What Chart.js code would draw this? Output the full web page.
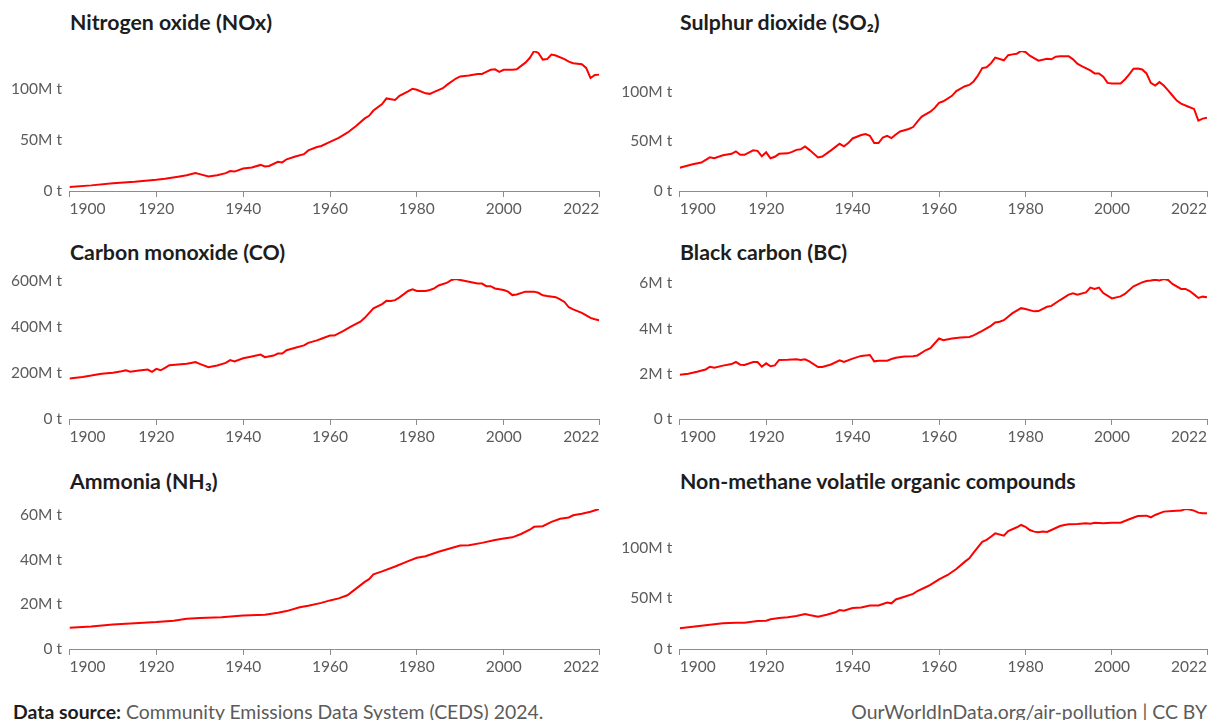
<!DOCTYPE html>
<html>
<head>
<meta charset="utf-8">
<script src="https://cdn.jsdelivr.net/npm/chart.js@4/dist/chart.umd.min.js"></script>
<style>
  html, body { margin: 0; padding: 0; background: #fff; }
  #page { position: relative; width: 1210px; height: 720px; overflow: hidden; font-family: Lato, "Noto Sans", sans-serif; }
  .title { position: absolute; font-weight: 700; font-size: 21.3px; line-height: 1.2; color: #1d1d1d; white-space: nowrap; }
  .foot { position: absolute; font-size: 19.4px; line-height: 1.2; color: #5b5b5b; white-space: nowrap; }
  .foot b { color: #1d1d1d; }
  canvas { position: absolute; }
</style>
</head>
<body>
<div id="page">
  <div class="foot" style="left:13px;top:700px;"><b>Data source:</b> Community Emissions Data System (CEDS) 2024.</div>
  <div class="foot" style="right:3px;top:700px;">OurWorldInData.org/air-pollution | CC BY</div>
</div>
<script>
// Global emissions by pollutant, million tonnes per year (CEDS 2024)
const xTickYears = [1900, 1920, 1940, 1960, 1980, 2000, 2022];

const noxYears = [1900,1905,1910,1915,1920,1922,1925,1927,1929,1930,1932,1934,1936,1937,1938,1940,1942,1944,1945,1946,1948,1949,1950,1952,1954,1955,1957,1958,1960,1962,1964,1966,1968,1969,1970,1972,1973,1975,1976,1978,1979,1980,1982,1983,1984,1986,1987,1989,1990,1992,1994,1995,1996,1997,1998,1999,2000,2002,2003,2005,2006,2007,2008,2009,2010,2011,2012,2014,2015,2016,2018,2019,2020,2021,2022];
const noxValues = [4,5.5,7.5,9,11,12,14,15.5,17.5,16.5,14.3,15.5,17.5,19.5,19,22,23,25.5,24,24.5,28.6,28,31,33.8,36,39.7,43,44,48,52,57,63.5,71,73.5,78.7,85,90.5,89,93,97.5,100,99,95.5,95,97,100.5,104,110,112,113,114.5,114.5,116.5,118.5,119,116.5,118.5,118.5,119,125.5,130,136.9,135,128.5,129,133.4,132.5,129,126.5,125,124,120.3,110.5,113.5,113.8];
const noxTicks = [0, 50, 100];

const so2Years = [1900,1903,1905,1907,1908,1910,1912,1913,1914,1915,1917,1918,1919,1920,1921,1922,1923,1925,1926,1927,1928,1929,1930,1932,1933,1935,1937,1938,1939,1940,1942,1943,1944,1945,1946,1947,1948,1949,1950,1951,1953,1954,1955,1956,1958,1959,1960,1961,1963,1964,1966,1967,1968,1969,1970,1971,1972,1973,1975,1976,1977,1978,1979,1980,1981,1983,1985,1986,1987,1988,1990,1991,1992,1993,1995,1996,1997,1998,1999,2000,2002,2003,2004,2005,2006,2007,2008,2009,2010,2011,2012,2013,2014,2015,2016,2018,2019,2020,2021,2022];
const so2Values = [23.5,27,28.7,34,33,36,37.5,40,36.5,36.5,41,40.5,35,39,33,34.5,37.5,38,39.5,41.5,42,45,41.5,33.8,34.8,41,47.6,45,48.3,53,56.4,57.4,55.7,48.3,48.3,54,55.7,53.4,57,60,62.5,64.5,70,75,80,83.8,88.9,90.5,96,100.7,105.7,107,110.5,116.5,124,124.7,128.7,134.5,131.8,137,137.8,138.5,141.2,140.2,136.5,131.5,133.4,132.8,135.5,136,136,132.8,128.4,126,121.6,118.6,118.6,115.2,109,108.4,108.4,112.5,117.6,123.3,123.6,122.6,118.6,109,106.4,109.8,106.4,101.4,96.3,91.2,88.2,84.5,82.8,71,73,74];
const so2Ticks = [0, 50, 100];

const coYears = [1900,1903,1905,1907,1908,1910,1912,1913,1914,1916,1918,1919,1920,1921,1922,1923,1925,1927,1928,1929,1930,1932,1934,1936,1937,1938,1940,1942,1944,1945,1947,1948,1949,1950,1952,1954,1955,1957,1958,1960,1961,1963,1965,1967,1968,1970,1972,1973,1974,1975,1976,1978,1979,1980,1982,1983,1984,1985,1987,1988,1989,1990,1992,1994,1995,1996,1997,1998,2000,2001,2002,2003,2005,2007,2008,2009,2010,2012,2013,2014,2015,2016,2018,2019,2020,2021,2022];
const coValues = [176,183,189,196,198,201,208,212,206,211,215,205,218,212,222,234,237,240,244,248,240,225,233,244,256,250,264,272,280,269,276,285,285,299,310,320,331,342,349,363,363,382,404,423,440,481,500,514,513,517,529,557,564,557,557,561,568,581,593,605,609,605,597,589,589,578,578,568,561,554,539,542,554,554,549,538,535,530,520,509,486,477,462,451,440,434,430];
const coTicks = [0, 200, 400, 600];

const bcYears = [1900,1902,1904,1906,1907,1908,1910,1912,1913,1914,1915,1917,1918,1919,1920,1921,1922,1923,1925,1927,1928,1929,1930,1932,1933,1935,1937,1938,1940,1942,1944,1945,1946,1948,1949,1950,1952,1954,1955,1957,1958,1960,1961,1963,1965,1967,1968,1970,1972,1973,1974,1975,1977,1979,1980,1982,1983,1985,1986,1988,1990,1991,1992,1994,1995,1996,1997,1998,2000,2002,2003,2005,2007,2008,2009,2010,2011,2012,2013,2014,2016,2017,2018,2019,2020,2021,2022];
const bcValues = [1.96,2.0,2.09,2.19,2.31,2.27,2.36,2.43,2.52,2.4,2.39,2.52,2.52,2.31,2.46,2.33,2.37,2.61,2.62,2.64,2.61,2.64,2.55,2.3,2.3,2.41,2.59,2.52,2.67,2.79,2.83,2.55,2.58,2.58,2.65,2.71,2.76,2.77,2.81,3.05,3.13,3.56,3.48,3.56,3.6,3.63,3.7,3.9,4.12,4.27,4.3,4.37,4.68,4.9,4.86,4.76,4.77,4.96,5.0,5.26,5.5,5.56,5.5,5.6,5.81,5.75,5.81,5.57,5.33,5.42,5.53,5.87,6.04,6.1,6.12,6.16,6.12,6.19,6.15,5.97,5.75,5.75,5.66,5.51,5.35,5.41,5.38];
const bcTicks = [0, 2, 4, 6];

const nh3Years = [1900,1905,1910,1915,1920,1924,1927,1930,1935,1940,1945,1948,1950,1953,1955,1958,1960,1962,1964,1966,1968,1969,1970,1972,1975,1978,1980,1982,1985,1988,1990,1992,1995,1998,2000,2002,2004,2006,2007,2009,2011,2013,2015,2016,2018,2020,2022];
const nh3Values = [9.5,10.1,11,11.6,12.1,12.7,13.6,13.9,14.2,15,15.4,16.3,17,18.7,19.4,20.7,21.8,22.7,24.1,27.1,30.1,31.3,33.5,34.8,37,39.4,40.9,41.6,43.6,45.3,46.4,46.5,47.6,48.9,49.6,50.1,51.6,53.5,54.8,55.1,57,58.4,59,60,60.7,61.6,62.8];
const nh3Ticks = [0, 20, 40, 60];

const nmvocYears = [1900,1905,1910,1913,1915,1918,1920,1921,1923,1925,1927,1929,1930,1932,1934,1936,1937,1938,1940,1942,1944,1946,1948,1949,1950,1952,1954,1955,1957,1958,1960,1962,1964,1966,1967,1968,1970,1971,1972,1973,1975,1976,1978,1979,1980,1981,1982,1983,1984,1985,1986,1988,1989,1990,1992,1994,1995,1996,1998,2000,2002,2004,2006,2008,2009,2010,2012,2014,2016,2017,2018,2019,2020,2021,2022];
const nmvocValues = [20.5,23,25.4,26,26,27.7,28,29.4,30.7,31.4,32.7,34.7,33.7,32,34,36.3,38.6,38,40.6,41,43,43,46,45.2,49,51.8,54.5,57.4,61.4,63.4,69,73.3,79.2,86.5,89.8,95.4,106,108,111.2,114.5,112.2,116.8,120.5,122.8,121,117.8,116.2,115.5,116.2,115.8,117.8,121.8,122.8,123.4,123.8,124.4,124,125,124.4,125,125,128.4,131.7,132,130.4,132.7,136,136.6,137,138.6,138,137,135,134.3,134.5];
const nmvocTicks = [0, 50, 100];

const panels = [
  { title: 'Nitrogen oxide (NOx)', years: noxYears, values: noxValues, ticks: noxTicks, col: 0, row: 0 },
  { title: 'Sulphur dioxide (SO\u2082)', years: so2Years, values: so2Values, ticks: so2Ticks, col: 1, row: 0 },
  { title: 'Carbon monoxide (CO)', years: coYears, values: coValues, ticks: coTicks, col: 0, row: 1 },
  { title: 'Black carbon (BC)', years: bcYears, values: bcValues, ticks: bcTicks, col: 1, row: 1 },
  { title: 'Ammonia (NH\u2083)', years: nh3Years, values: nh3Values, ticks: nh3Ticks, col: 0, row: 2 },
  { title: 'Non-methane volatile organic compounds', years: nmvocYears, values: nmvocValues, ticks: nmvocTicks, col: 1, row: 2 }
];

// Grid layout of the small multiples
const colLeft = [0, 610];
const colWidth = [605, 600];
const colPadRight = [5.8, 2];
const colAxisWidth = [69.5, 69.7];
const colTitleLeft = [70, 680];
const rowAxisY = [191, 419, 649];
const rowTitleBaseline = [31, 261, 490];
const titleSize = 21.3;
const plotHeight = 140, padTop = 22, xAxisHeight = 30;

Chart.defaults.font.family = 'Lato, "Noto Sans", sans-serif';
const tickColor = '#5b5b5b';
const axisColor = '#8c8c8c';
const page = document.getElementById('page');

panels.forEach(p => {
  const t = document.createElement('div');
  t.className = 'title';
  t.textContent = p.title;
  t.style.left = colTitleLeft[p.col] + 'px';
  t.style.top = (rowTitleBaseline[p.row] - titleSize * 0.987) + 'px';
  page.appendChild(t);

  const cv = document.createElement('canvas');
  const w = colWidth[p.col];
  const h = padTop + plotHeight + xAxisHeight;
  cv.width = w; cv.height = h;
  cv.style.width = w + 'px'; cv.style.height = h + 'px';
  cv.style.left = colLeft[p.col] + 'px';
  cv.style.top = (rowAxisY[p.row] - plotHeight - padTop) + 'px';
  page.appendChild(cv);

  const axisW = colAxisWidth[p.col];
  new Chart(cv, {
    type: 'line',
    data: {
      datasets: [{
        data: p.years.map((x, i) => ({ x: x, y: p.values[i] })),
        borderColor: '#ff0000',
        borderWidth: 2,
        pointRadius: 0,
        tension: 0,
        fill: false
      }]
    },
    options: {
      responsive: false,
      animation: false,
      events: [],
      devicePixelRatio: 1,
      layout: { autoPadding: false, padding: { top: padTop, right: colPadRight[p.col], bottom: 0, left: 0 } },
      plugins: { legend: { display: false }, tooltip: { enabled: false } },
      scales: {
        x: {
          type: 'linear',
          min: xTickYears[0],
          max: xTickYears[xTickYears.length - 1],
          afterBuildTicks: s => { s.ticks = xTickYears.map(v => ({ value: v })); },
          afterFit: s => { s.height = xAxisHeight; },
          grid: { drawOnChartArea: false, drawTicks: true, tickLength: 6, color: axisColor },
          border: { display: true, color: axisColor, width: 1 },
          ticks: { align: 'inner', padding: 3, color: tickColor, font: { size: 15.5 }, maxRotation: 0, autoSkip: false, callback: v => String(v) }
        },
        y: {
          type: 'linear',
          min: 0,
          max: Math.max(...p.values),
          afterBuildTicks: s => { s.ticks = p.ticks.map(v => ({ value: v })); },
          afterFit: s => { s.width = axisW; },
          grid: { display: false, drawTicks: false },
          border: { display: false },
          ticks: { padding: 7.5, color: tickColor, font: { size: 15.5 }, callback: v => (v === 0 ? '0 t' : v + 'M t') }
        }
      }
    }
  });
});
</script>
</body>
</html>
